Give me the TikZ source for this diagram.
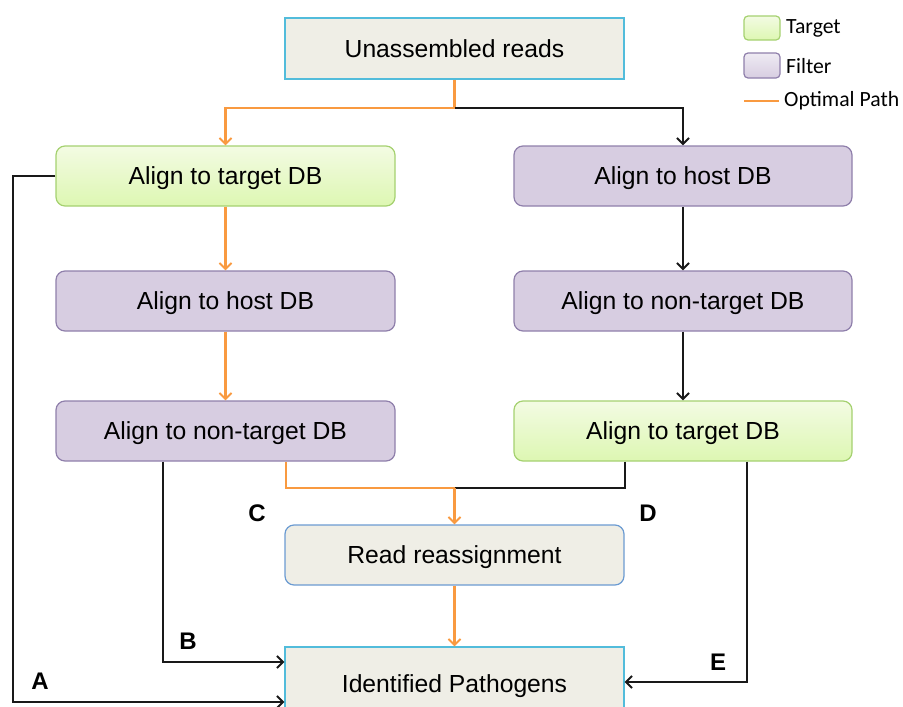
\documentclass[tikz,border=0pt]{standalone}
\usepackage{fontspec}
\setmainfont{Liberation Sans}
\newfontfamily\legendfont{Carlito}
\usetikzlibrary{arrows.meta}
\definecolor{boxfill}{HTML}{EFEEE6}
\definecolor{cyanborder}{HTML}{52BCDB}
\definecolor{blueborder}{HTML}{6B9BD2}
\definecolor{greentop}{HTML}{F3FBE3}
\definecolor{greenbot}{HTML}{DDF7B2}
\definecolor{greenborder}{HTML}{A5D170}
\definecolor{purplefill}{HTML}{D7CDE1}
\definecolor{purpleborder}{HTML}{8F7FAB}
\definecolor{optorange}{HTML}{F99A40}
\tikzset{
  base/.style={minimum width=339pt, minimum height=60pt, inner sep=0pt, line width=1.2pt,
    text depth=0pt, font=\fontsize{24.7}{29}\selectfont},
  plainbox/.style={base, fill=boxfill, draw=cyanborder},
  readbox/.style={base, fill=boxfill, draw=blueborder, rounded corners=9pt},
  targetbox/.style={base, top color=greentop, bottom color=greenbot, draw=greenborder, rounded corners=9pt},
  filterbox/.style={base, fill=purplefill, draw=purpleborder, rounded corners=9pt},
  tip/.style={-{Straight Barb[length=6pt,width=12pt,line width=2pt]}},
  conn/.style={line width=1.7pt, black!90, tip},
  connnt/.style={line width=1.7pt, black!90},
  opt/.style={line width=2.1pt, optorange, tip},
  optnt/.style={line width=2.1pt, optorange},
  lab/.style={font=\fontsize{24}{28}\selectfont\bfseries, inner sep=0pt},
  legtext/.style={font=\legendfont\fontsize{21.7}{26}\selectfont, inner sep=0pt, anchor=west}
}
\begin{document}
\begin{tikzpicture}[x=1pt,y=-1pt]
\useasboundingbox (0,0) rectangle (903,707);
\clip (0,0) rectangle (903,707);
% nodes
\node[plainbox, minimum height=61pt] (u) at (454.5,48.5) {Unassembled reads};
\node[targetbox] (lt) at (225.5,176) {Align to target DB};
\node[filterbox] (lh) at (225.5,301) {Align to host DB};
\node[filterbox] (ln) at (225.5,431) {Align to non-target DB};
\node[filterbox, minimum width=338pt] (rh) at (683,176) {Align to host DB};
\node[filterbox, minimum width=338pt] (rn) at (683,301) {Align to non-target DB};
\node[targetbox, minimum width=338pt] (rt) at (683,431) {Align to target DB};
\node[readbox] (rr) at (454.5,555) {Read reassignment};
\node[plainbox, minimum height=74pt] (ip) at (454.5,684) {Identified Pathogens};
% junctions
\coordinate (j1) at (454.5,108);
\coordinate (j2) at (454.5,488);
\coordinate (a1) at (13,176);
% connectors
\draw[optnt] (u.south) -- (j1);
\draw[opt] (j1) -| (lt.north);
\draw[conn] (j1) -| (rh.north);
\draw[opt] (lt.south) -- (lh.north);
\draw[opt] (lh.south) -- (ln.north);
\draw[conn] (rh.south) -- (rn.north);
\draw[conn] (rn.south) -- (rt.north);
\draw[connnt] ([xshift=-58pt]rt.south) |- (j2);
\draw[optnt] ([xshift=60.5pt]ln.south) |- (j2);
\draw[opt] (j2) -- (rr.north);
\draw[opt] (rr.south) -- (ip.north);
\draw[conn] ([xshift=-62.5pt]ln.south) |- ([yshift=22pt]ip.west);
\draw[conn] (lt.west) -- (a1) |- ([yshift=-18pt]ip.west);
\draw[conn] ([xshift=64pt]rt.south) |- ([yshift=2pt]ip.east);
% labels
\node[lab] (la) at (40,681) {A};
\node[lab] (lb) at (188,641) {B};
\node[lab] (lc) at (257,513) {C};
\node[lab] (ld) at (648,513) {D};
\node[lab] (le) at (718,662) {E};
% legend
\draw[line width=1.2pt, greenborder, top color=greentop, bottom color=greenbot, rounded corners=4pt] (744,16) rectangle (780,40);
\node[legtext] (lt1) at (786,28) {Target};
\draw[line width=1.2pt, purpleborder, top color=purplefill!40, bottom color=purplefill, rounded corners=4pt] (744,53) rectangle (780,78);
\node[legtext] (lt2) at (786,66) {Filter};
\draw[optnt] (744,101) -- (779,101);
\node[legtext] (lt3) at (784,101) {Optimal Path};
\end{tikzpicture}
\end{document}
